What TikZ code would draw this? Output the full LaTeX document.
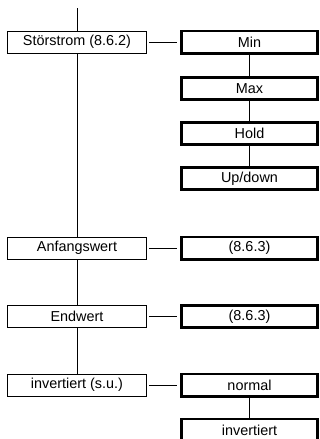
\documentclass[tikz,border=0pt]{standalone}
\usepackage{fontspec}
\setmainfont{Liberation Sans}
\usetikzlibrary{backgrounds}

\tikzset{
	lbox/.style={draw, line width=0.8pt, fill=white, inner sep=0pt,
		minimum width=139.2pt, minimum height=22pt,
		font=\fontsize{14.4}{17}\selectfont},
	rbox/.style={draw, line width=2.8pt, fill=white, inner sep=0pt,
		minimum width=136.2pt, minimum height=22.2pt,
		font=\fontsize{14.4}{17}\selectfont},
	link/.style={line width=0.8pt},
	hlink/.style={link, shorten <=2.4pt, shorten >=3.4pt}
}

\begin{document}
\begin{tikzpicture}[x=1pt, y=-1pt]
	\useasboundingbox (0,0) rectangle (320,439);

	%left column
	\coordinate (top) at (77,8);
	\node [lbox] (stoer) at (77,42) {Störstrom (8.6.2)};
	\node [lbox] (anf) at (77,248) {Anfangswert};
	\node [lbox] (endw) at (77,316.5) {Endwert};
	\node [lbox] (inv) at (77,385) {invertiert (s.u.)};

	%right column
	\node [rbox] (min) at (249.5,42) {Min};
	\node [rbox] (max) at (249.5,88.5) {Max};
	\node [rbox] (hold) at (249.5,133.5) {Hold};
	\node [rbox] (updown) at (249.5,178.5) {Up/down};
	\node [rbox] (anfval) at (249.5,248) {(8.6.3)};
	\node [rbox] (endval) at (249.5,316.5) {(8.6.3)};
	\node [rbox] (normal) at (249.5,385) {normal};
	\node [rbox] (invval) at (249.5,430) {invertiert};

	%paths
	\begin{scope}[on background layer]
		\draw [link] (top) -- (inv.north);
	\end{scope}
	\draw [hlink] (stoer) -- (min);
	\draw [hlink] (anf) -- (anfval);
	\draw [hlink] (endw) -- (endval);
	\draw [hlink] (inv) -- (normal);
	\draw [link] (min) -- (max);
	\draw [link] (max) -- (hold);
	\draw [link] (hold) -- (updown);
	\draw [link] (normal) -- (invval);

\end{tikzpicture}
\end{document}
